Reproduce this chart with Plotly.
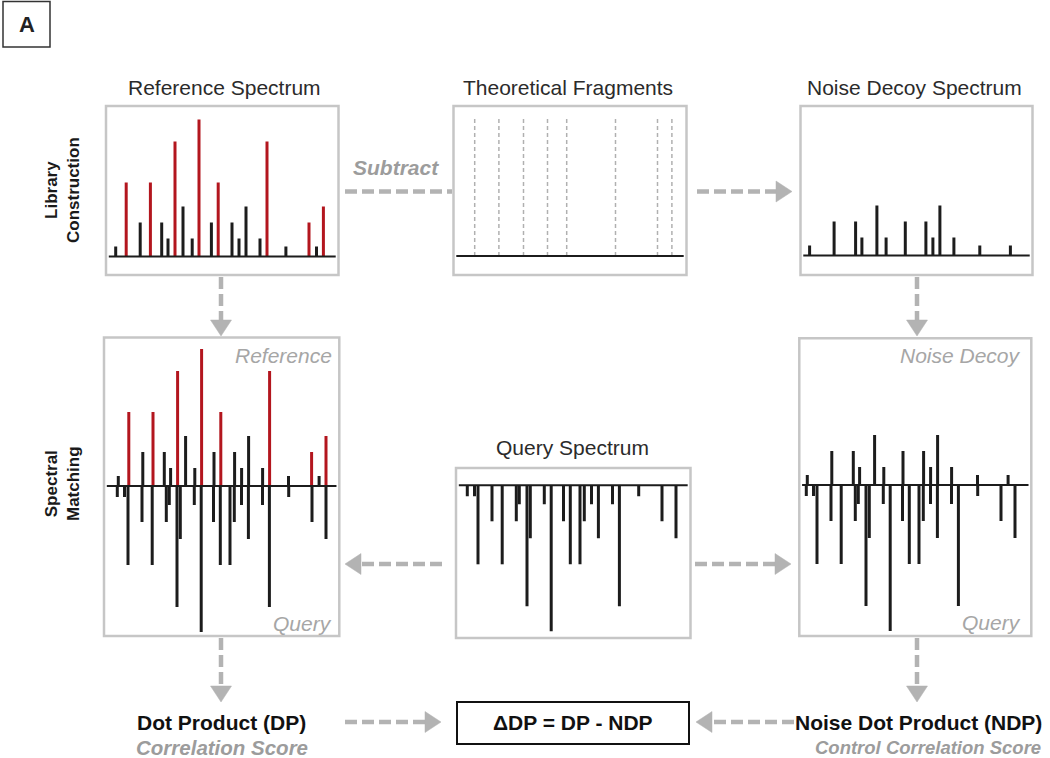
import plotly.graph_objects as go

# ---------------- data ----------------
# Reference library spectrum (m/z, intensity a.u.)
ref_mz = [133.2, 175.2, 231.2, 272.0, 317.2, 342.4, 370.4, 402.4, 439.2, 466.4, 516.0,
          543.2, 598.4, 626.4, 654.4, 710.4, 738.4, 814.0, 906.4, 936.4, 964.0]
ref_int = [10, 74, 34, 74, 34, 18, 115, 50, 18, 137, 34,
           74, 34, 18, 50, 18, 115, 10, 34, 10, 50]

# Theoretical fragment m/z values
theo_mz = [175.2, 272.0, 370.4, 466.4, 543.2, 738.4, 906.4, 964.0]

# Query spectrum (m/z, intensity a.u.)
query_mz = [129.2, 158.0, 172.0, 228.0, 268.8, 325.2, 337.2, 368.0, 381.2, 437.2, 464.8,
            514.0, 541.2, 580.0, 597.2, 626.0, 653.6, 710.0, 737.6, 814.8, 908.0, 964.0]
query_int = [11, 11, 79, 36, 79, 36, 19, 121, 53, 19, 146,
             36, 79, 79, 36, 19, 53, 19, 121, 11, 36, 53]

titles = ["Reference Spectrum", "Theoretical Fragments", "Noise Decoy Spectrum", "Query Spectrum"]
row_labels = ["Library<br>Construction", "Spectral<br>Matching"]

# ---------------- derived ----------------
TOL = 1.0
matched = [any(abs(m - t) <= TOL for t in theo_mz) for m in ref_mz]
red_mz = [m for m, k in zip(ref_mz, matched) if k]
red_int = [i for i, k in zip(ref_int, matched) if k]
blk_mz = [m for m, k in zip(ref_mz, matched) if not k]
blk_int = [i for i, k in zip(ref_int, matched) if not k]
# Noise decoy = reference minus theoretical fragments
decoy_mz, decoy_int = blk_mz, blk_int

# ---------------- layout helpers ----------------
W, H = 1050, 758
FONT = "Liberation Sans, Arial, Helvetica, sans-serif"
RED = "#b3161e"
BLK = "#1c1c1c"
ARROW = "#b3b3b3"
BOXC = "#c6c6c6"


def px(x):
    return x / W


def py(y):
    return 1 - y / H


# panel: (L, R, T, B, baseline_y, x_shift)
panels = {
    1: (106, 338.5, 106, 275, 256.5, -2.6),
    2: (453.5, 686.5, 106, 275, 256.0, 345.9),
    3: (800.5, 1032.5, 106, 275, 255.5, 691.3),
    4: (104, 339.3, 337.5, 636, 486.0, 0.0),
    5: (456, 690.5, 468, 638, 485.3, 350.0),
    6: (799.3, 1031.3, 338.3, 636, 485.0, 689.0),
}
MZ_PER_PX = 4.0


def mz_at(pxx, shift):
    return 100 + MZ_PER_PX * (pxx - 110 - shift)


fig = go.Figure()
layout_axes = {}
shapes = []
annotations = []

for k, (L, R, T, B, yb, s) in panels.items():
    xn = "xaxis" if k == 1 else f"xaxis{k}"
    yn = "yaxis" if k == 1 else f"yaxis{k}"
    layout_axes[xn] = dict(domain=[px(L), px(R)], range=[mz_at(L, s), mz_at(R, s)],
                           visible=False, showgrid=False, zeroline=False, fixedrange=True,
                           anchor="y" if k == 1 else f"y{k}")
    layout_axes[yn] = dict(domain=[py(B), py(T)], range=[-(B - yb), yb - T],
                           visible=False, showgrid=False, zeroline=False, fixedrange=True,
                           anchor="x" if k == 1 else f"x{k}")
    xr = "x" if k == 1 else f"x{k}"
    yr = "y" if k == 1 else f"y{k}"
    # panel frame
    shapes.append(dict(type="rect", xref=f"{xr} domain", yref=f"{yr} domain",
                       x0=0, x1=1, y0=0, y1=1, line=dict(color=BOXC, width=2.5),
                       fillcolor="rgba(0,0,0,0)", layer="below"))
    # baseline
    shapes.append(dict(type="line", xref=f"{xr} domain", yref=yr, x0=0.012, x1=0.988,
                       y0=0, y1=0, line=dict(color=BLK, width=2), layer="above"))


def sticks(mz, inten, sign=1):
    xs, ys = [], []
    for m, i in zip(mz, inten):
        xs += [m, m, None]
        ys += [0, sign * i, None]
    return xs, ys


def add_sticks(mz, inten, sign, color, k, width=3, dash=None):
    xs, ys = sticks(mz, inten, sign)
    xr = "x" if k == 1 else f"x{k}"
    yr = "y" if k == 1 else f"y{k}"
    fig.add_trace(go.Scatter(x=xs, y=ys, mode="lines", xaxis=xr, yaxis=yr,
                             line=dict(color=color, width=width, dash=dash),
                             hoverinfo="skip", showlegend=False))


# Panel 1: reference spectrum
add_sticks(blk_mz, blk_int, 1, BLK, 1)
add_sticks(red_mz, red_int, 1, RED, 1)
# Panel 2: theoretical fragments (dashed markers spanning panel)
add_sticks(theo_mz, [140] * len(theo_mz), 1, "#b0b0b0", 2, width=1.5, dash="4px,3px")
# Panel 3: noise decoy
add_sticks(decoy_mz, decoy_int, 1, BLK, 3)
# Panel 4: reference vs query
add_sticks(query_mz, query_int, -1, BLK, 4)
add_sticks(blk_mz, blk_int, 1, BLK, 4)
add_sticks(red_mz, red_int, 1, RED, 4)
# Panel 5: query
add_sticks(query_mz, query_int, -1, BLK, 5)
# Panel 6: noise decoy vs query
add_sticks(query_mz, query_int, -1, BLK, 6)
add_sticks(decoy_mz, decoy_int, 1, BLK, 6)


# ---------------- arrows ----------------
def dashed(x0, y0, x1, y1):
    shapes.append(dict(type="line", xref="paper", yref="paper", x0=px(x0), y0=py(y0),
                       x1=px(x1), y1=py(y1),
                       line=dict(color=ARROW, width=4.5, dash="12px,5px")))


def arrow(x0, y0, x1, y1, head=16, half=10.5):
    dx = (x1 > x0) - (x1 < x0)
    dy = (y1 > y0) - (y1 < y0)
    bx, by = x1 - dx * head, y1 - dy * head
    dashed(x0, y0, bx + dx * 1, by + dy * 1)
    if dx != 0:
        pts = [(x1, y1), (bx, by - half), (bx, by + half)]
    else:
        pts = [(x1, y1), (bx - half, by), (bx + half, by)]
    path = "M {} {} L {} {} L {} {} Z".format(*[v for p in pts for v in (px(p[0]), py(p[1]))])
    shapes.append(dict(type="path", xref="paper", yref="paper", path=path,
                       fillcolor=ARROW, line=dict(color=ARROW, width=0.5)))


dashed(345, 191.5, 452, 191.5)            # subtract
arrow(697, 191.5, 792, 191.5)             # to decoy
arrow(221, 277, 221, 336)                 # ref -> matching
arrow(917, 277, 917, 336)                 # decoy -> matching
arrow(442, 564, 345, 564)                 # query -> left
arrow(695, 564, 791, 564)                 # query -> right
arrow(221, 638, 221, 702)                 # -> DP
arrow(917, 638, 917, 702)                 # -> NDP
arrow(345, 722, 441, 722)                 # DP -> box
arrow(794, 722, 696, 722)                 # NDP -> box

# result box and panel label box
shapes.append(dict(type="rect", xref="paper", yref="paper", x0=px(457), x1=px(689),
                   y0=py(744), y1=py(702), line=dict(color="#111111", width=2)))
shapes.append(dict(type="rect", xref="paper", yref="paper", x0=px(3), x1=px(50),
                   y0=py(47), y1=py(1.5), line=dict(color="#333333", width=1.5)))


# ---------------- text ----------------
def text(x, y, t, size=21, color="#222222", xanchor="center", angle=0):
    annotations.append(dict(x=px(x), y=py(y), xref="paper", yref="paper", text=t,
                            showarrow=False, xanchor=xanchor, yanchor="middle",
                            textangle=angle, font=dict(family=FONT, size=size, color=color)))


text(26.5, 24.5, "<b>A</b>", size=22, color="#222222")
text(62, 190, "<b>" + row_labels[0] + "</b>", size=17, color="#1a1a1a", angle=-90)
text(62, 484, "<b>" + row_labels[1] + "</b>", size=17, color="#1a1a1a", angle=-90)

text(224, 87, titles[0], size=21, color="#2b2b2b")
text(568, 87, titles[1], size=21, color="#2b2b2b")
text(914, 87, titles[2], size=21, color="#2b2b2b")
text(572, 447, titles[3], size=21, color="#2b2b2b")

text(396, 167, "<b><i>Subtract</i></b>", size=21, color="#9c9c9c")
text(334, 355, "<i>Reference</i>", size=21, color="#a6a6a6", xanchor="right")
text(334, 623, "<i>Query</i>", size=21, color="#a6a6a6", xanchor="right")
text(1023, 356, "<i>Noise Decoy</i>", size=21, color="#a6a6a6", xanchor="right")
text(1023, 622, "<i>Query</i>", size=21, color="#a6a6a6", xanchor="right")

text(221.5, 722, "<b>Dot Product (DP)</b>", size=21, color="#111111")
text(222, 747, "<b><i>Correlation Score</i></b>", size=20.5, color="#9c9c9c")
text(918, 722, "<b>Noise Dot Product (NDP)</b>", size=21, color="#111111")
text(928, 747, "<b><i>Control Correlation Score</i></b>", size=18.5, color="#9c9c9c")
text(573, 722, "<b>\u0394DP = DP - NDP</b>", size=21, color="#111111")

fig.update_layout(width=W, height=H, autosize=False,
                  margin=dict(l=0, r=0, t=0, b=0),
                  paper_bgcolor="white", plot_bgcolor="white",
                  shapes=shapes, annotations=annotations, showlegend=False,
                  **layout_axes)

fig.write_html("out.html", config={"displayModeBar": False},
               post_script="document.body.style.margin='0';document.body.style.padding='0';"
                           "document.body.style.overflow='hidden';")
